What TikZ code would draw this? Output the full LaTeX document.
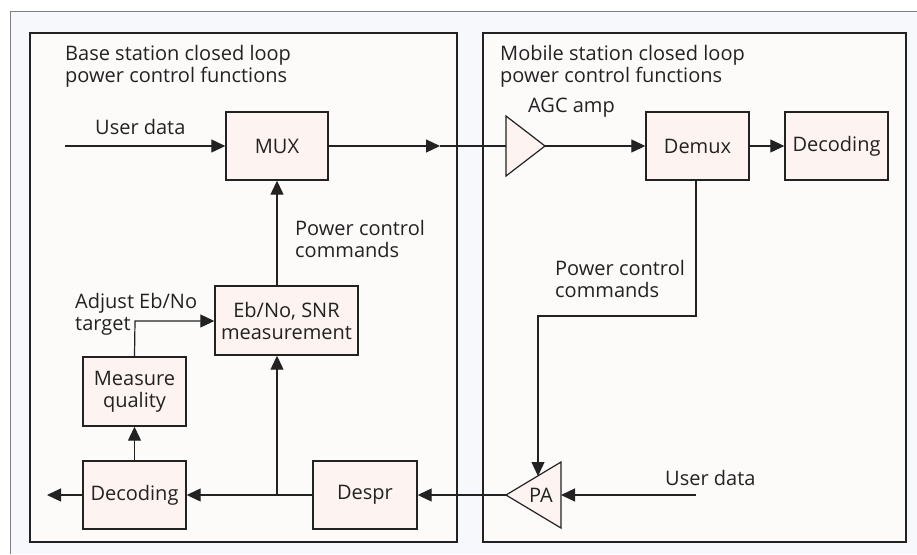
\documentclass[tikz,border=0pt]{standalone}
\usepackage{fontspec}
\setmainfont{Open Sans}
\usetikzlibrary{arrows.meta}
\definecolor{bgblue}{HTML}{F7F8FC}
\definecolor{panelfill}{HTML}{FDFAFA}
\definecolor{boxfill}{HTML}{FDF3F0}
\definecolor{ink}{HTML}{222222}
\tikzset{
    blk/.style={draw=ink, line width=1.4pt, fill=boxfill, align=center, inner sep=0pt},
    flow/.style={draw=ink, line width=1.2pt, -{Triangle[length=14pt,width=13pt]}},
    wire/.style={draw=ink, line width=1.2pt},
    lbl/.style={anchor=west, align=left, inner sep=0pt}
}
\begin{document}
\begin{tikzpicture}[x=1pt, y=-1pt, every node/.style={font=\fontsize{20}{22}\selectfont, text=ink}]
            \useasboundingbox (0,0) rectangle (917,554);
            % frame and the two panels
            \fill[bgblue] (10,11) rectangle (917,554);
            \draw[gray, line width=1pt] (10,554) -- (10,11) -- (917,11);
            \draw[ink, line width=1.4pt, fill=panelfill] (30,33) rectangle (457,542);
            \draw[ink, line width=1.4pt, fill=panelfill] (483,33) rectangle (906,542);
            \node[lbl] (bstitle) at (65,66) {Base station closed loop\\power control functions};
            \node[lbl] (mstitle) at (500,66) {Mobile station closed loop\\power control functions};

            % base station blocks
            \node[blk, minimum width=102pt, minimum height=68pt] (mux) at (277,146) {MUX};
            \node[blk, minimum width=143pt, minimum height=69pt] (ebno) at (286.5,320.5) {Eb/No, SNR\\measurement};
            \node[blk, minimum width=103pt, minimum height=69pt] (meas) at (134.5,391.5) {Measure\\quality};
            \node[blk, minimum width=103pt, minimum height=68pt] (decl) at (134.5,495) {Decoding};
            \node[blk, minimum width=104pt, minimum height=68pt] (despr) at (365,495) {Despr};

            % mobile station blocks
            \node[blk, minimum width=103pt, minimum height=68pt] (demux) at (697.5,146) {Demux};
            \node[blk, minimum width=103pt, minimum height=68pt] (decr) at (836.5,146) {Decoding};
            \draw[ink, line width=1.2pt, fill=boxfill] (506,116) -- (545,146) -- (506,176) -- cycle;
            \coordinate (agcl) at (506,146);
            \coordinate (agcr) at (545,146);
            \draw[ink, line width=1.2pt, fill=boxfill] (561,462) -- (506,495) -- (561,528) -- cycle;
            \coordinate (pal) at (506,495);
            \coordinate (par) at (561,495);
            \coordinate (patop) at (538,476);
            \node (pa) at (541,495) {PA};

            % free ends and bends
            \coordinate (udl) at (65,146);
            \coordinate (udr) at (696,495);
            \coordinate (outl) at (47,495);
            \coordinate (muxtip) at (440,146);
            \coordinate (tap) at (277,495);
            \coordinate (bend) at (696,316);
            \coordinate (adj) at (135,321);

            % connectors
            \draw[flow] (udl) -- (mux.west);
            \draw[flow] (mux.east) -- (muxtip);
            \draw[wire] (muxtip) -- (agcl);
            \draw[flow] (agcr) -- (demux.west);
            \draw[flow] (demux.east) -- (decr.west);
            \draw[flow] (demux.south -| bend) -- (bend) -| (patop);
            \draw[flow] (udr) -- (par);
            \draw[flow] (pal) -- (despr.east);
            \draw[flow] (despr.west) -- (decl.east);
            \draw[flow] (tap) -- (tap |- ebno.south);
            \draw[flow] (ebno.north -| mux) -- (mux.south);
            \draw[flow] (decl.north) -- (meas.south);
            \draw[flow] (meas.north) -- (adj) -- (ebno.west |- adj);
            \draw[flow] (decl.west) -- (outl);

            % labels
            \node[lbl] (udllbl) at (95,127) {User data};
            \node[lbl] (agclbl) at (528,108) {AGC amp};
            \node[lbl] (pcl) at (295,238.5) {Power control\\commands};
            \node[lbl] (pcr) at (555,279) {Power control\\commands};
            \node[lbl] (adjlbl) at (75,314) {Adjust Eb/No\\target};
            \node[lbl] (udrlbl) at (665,478) {User data};
        \end{tikzpicture}
\end{document}
